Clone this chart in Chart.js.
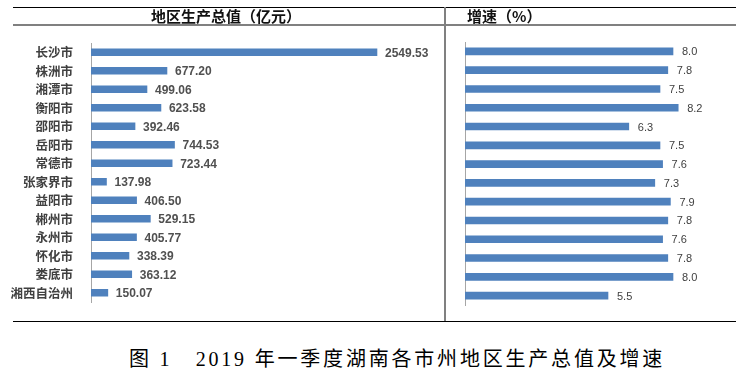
<!DOCTYPE html>
<html>
<head>
<meta charset="utf-8">
<script src="https://cdn.jsdelivr.net/npm/chart.js@4.4.1/dist/chart.umd.min.js"></script>
<style>
  html, body { margin: 0; padding: 0; background: #fff; }
  #wrap { position: relative; width: 744px; height: 375px; overflow: hidden; }
  .hline, .vline { position: absolute; }
  .box { position: absolute; top: 0; height: 312px; }
  .head { position: absolute; top: 6px; font: bold 15px "Noto Sans CJK SC", sans-serif; color: #111; line-height: 20px; white-space: nowrap; }
  #caption { position: absolute; left: 0; width: 794px; top: 343px; text-align: center;
             font: 20px "Liberation Serif", "Noto Sans CJK SC", serif; color: #000; letter-spacing: 2.8px; white-space: pre; }
</style>
</head>
<body>
<div id="wrap">
  <div class="box" style="left:0;width:445px"><canvas id="chart-gdp" width="445" height="312"></canvas></div>
  <div class="box" style="left:445px;width:299px"><canvas id="chart-growth" width="299" height="312"></canvas></div>

  <div class="hline" style="left:13px;width:723px;top:7px;height:1px;background:#000"></div>
  <div class="hline" style="left:13px;width:723px;top:24px;height:2px;background:#808080"></div>
  <div class="hline" style="left:13px;width:723px;top:321px;height:1px;background:#000"></div>
  <div class="vline" style="left:444px;width:2px;top:7px;height:314px;background:#808080"></div>

  <div class="head" style="left:151px">地区生产总值（亿元）</div>
  <div class="head" style="left:467px">增速（%）</div>

  <div id="caption">图 1   2019 年一季度湖南各市州地区生产总值及增速</div>
</div>
<script>
// 2019 Q1 Hunan GDP by city/prefecture (100 million yuan) and growth (%)
const cities = ['长沙市', '株洲市', '湘潭市', '衡阳市', '邵阳市', '岳阳市', '常德市',
                '张家界市', '益阳市', '郴州市', '永州市', '怀化市', '娄底市', '湘西自治州'];
const gdp    = [2549.53, 677.20, 499.06, 623.58, 392.46, 744.53, 723.44,
                137.98, 406.50, 529.15, 405.77, 338.39, 363.12, 150.07];
const growth = [8.0, 7.8, 7.5, 8.2, 6.3, 7.5, 7.6, 7.3, 7.9, 7.8, 7.6, 7.8, 8.0, 5.5];

const BAR = '#4f81bd';

const valueLabels = {
  id: 'valueLabels',
  afterDatasetsDraw(chart, args, opts) {
    const { ctx } = chart;
    const vals = chart.data.datasets[0].data;
    ctx.save();
    ctx.font = opts.font;
    ctx.fillStyle = opts.color;
    ctx.textAlign = 'left';
    ctx.textBaseline = 'middle';
    chart.getDatasetMeta(0).data.forEach((bar, i) => {
      ctx.fillText(vals[i].toFixed(opts.digits), bar.x + opts.offset, bar.y + 1);
    });
    ctx.restore();
  }
};

function barChart(id, values, max, axisWidth, pad, showLabels, labelOpts) {
  return new Chart(document.getElementById(id).getContext('2d'), {
    type: 'bar',
    data: { labels: cities, datasets: [{ data: values, backgroundColor: BAR, barThickness: 7, borderWidth: 0 }] },
    options: {
      indexAxis: 'y',
      responsive: false, animation: false, devicePixelRatio: 1,
      layout: { padding: pad },
      plugins: { legend: { display: false }, tooltip: { enabled: false }, valueLabels: labelOpts },
      scales: {
        x: { display: false, min: 0, max },
        y: {
          // fixed axis width, and no extra room for label overhang
          afterFit: s => { s.width = axisWidth; s.paddingTop = 0; s.paddingBottom = 0; },
          grid: { display: false },
          border: { display: true, color: '#a6a6a6', width: 1 },
          ticks: { display: showLabels, padding: 10, color: '#404040',
                   font: { family: '"Noto Sans CJK SC", sans-serif', size: 12.5, weight: 'bold' } },
        },
      },
    },
    plugins: [valueLabels],
  });
}

barChart('chart-gdp', gdp, 3000, 91, { top: 43, bottom: 10, left: 0, right: 17.5 }, true,
  { font: 'bold 12px "Liberation Sans", sans-serif', color: '#505050', offset: 8, digits: 2 });
barChart('chart-growth', growth, 10, 20, { top: 42, bottom: 7, left: 0, right: 19 }, false,
  { font: '11px "Liberation Sans", sans-serif', color: '#404040', offset: 9, digits: 1 });
</script>
</body>
</html>
